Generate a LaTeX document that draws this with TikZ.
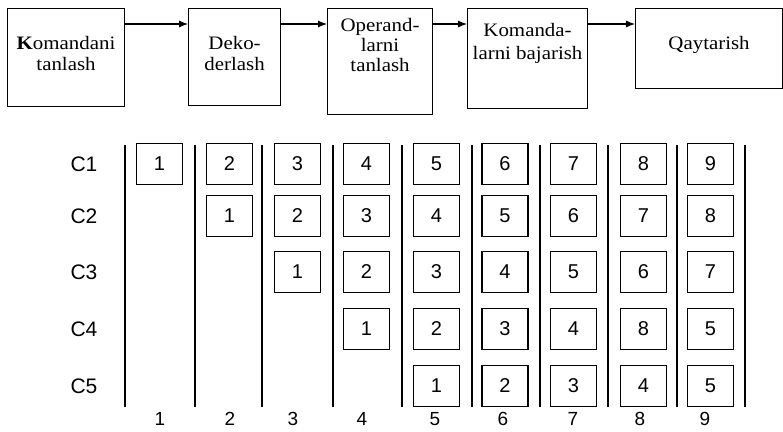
\documentclass[tikz,border=0pt]{standalone}
\usepackage{fontspec}
\setmainfont{Liberation Serif}
\setsansfont{Liberation Sans}
\newfontfamily\stagefont{Liberation Serif}[FakeStretch=1.1]
\usetikzlibrary{arrows.meta,positioning}
\begin{document}
\begin{tikzpicture}[x=1pt,y=-1pt,
  stagebox/.style={draw, line width=1.1pt, inner sep=0pt, anchor=north west},
  stagetext/.style={inner sep=0pt, align=center, font=\stagefont\fontsize{19}{21.5}\selectfont},
  flow/.style={line width=1.1pt, -{Latex[length=9pt,width=7pt]}},
  cell/.style={draw, line width=1.2pt, minimum width=46pt, minimum height=41pt, inner sep=0pt, font=\sffamily\fontsize{20}{24}\selectfont},
  rowlab/.style={inner sep=0pt, font=\sffamily\fontsize{21}{24}\selectfont},
  colnum/.style={inner sep=0pt, font=\sffamily\fontsize{19}{22}\selectfont},
  sepline/.style={line width=1.3pt}]
\useasboundingbox (0,0) rectangle (783,431);
% pipeline stages
\node[stagebox, minimum width=117pt, minimum height=98pt] (b1) at (7,8) {};
\node[stagebox, minimum width=92pt, minimum height=97pt] (b2) at (188,8) {};
\node[stagebox, minimum width=105pt, minimum height=106pt] (b3) at (327,8) {};
\node[stagebox, minimum width=120pt, minimum height=100pt] (b4) at (467,8) {};
\node[stagebox, minimum width=147pt, minimum height=80pt] (b5) at (635,8) {};
\node[stagetext, below=28pt of b1.north] (t1) {\textbf{K}omandani\\tanlash};
\node[stagetext, below=28pt of b2.north] (t2) {Deko-\\derlash};
\node[stagetext, below=10pt of b3.north, font=\stagefont\fontsize{19}{20}\selectfont] (t3) {Operand-\\larni\\tanlash};
\node[stagetext, below=15pt of b4.north, font=\stagefont\fontsize{19}{23}\selectfont] (t4) {Komanda-\\larni bajarish};
\node[stagetext, below=28pt of b5.north] (t5) {Qaytarish};
\coordinate (ay) at (0,24);
\draw[flow] (b1.east |- ay) -- (b2.west |- ay);
\draw[flow] (b2.east |- ay) -- (b3.west |- ay);
\draw[flow] (b3.east |- ay) -- (b4.west |- ay);
\draw[flow] (b4.east |- ay) -- (b5.west |- ay);
% time grid
\foreach \x in {125,195,262,333,402,472,540,608,677,745}
  \draw[sepline] (\x,145) -- (\x,407);
\def\colx{{0,159.5,229.5,297.5,366.5,436.5,505,573.5,643.5,710.5}}
\def\rowy{{0,164,216,272,329,386}}
\foreach \r in {1,...,5}{
  \pgfmathsetmacro\yy{\rowy[\r]}
  \node[rowlab] (r\r) at (84,\yy) {C\r};
}
\foreach \r/\c/\v in {1/1/1,1/2/2,1/3/3,1/4/4,1/5/5,1/6/6,1/7/7,1/8/8,1/9/9,
                      2/2/1,2/3/2,2/4/3,2/5/4,2/6/5,2/7/6,2/8/7,2/9/8,
                      3/3/1,3/4/2,3/5/3,3/6/4,3/7/5,3/8/6,3/9/7,
                      4/4/1,4/5/2,4/6/3,4/7/4,4/8/8,4/9/5,
                      5/5/1,5/6/2,5/7/3,5/8/4,5/9/5}{
  \pgfmathsetmacro\xx{\colx[\c]}
  \pgfmathsetmacro\yy{\rowy[\r]}
  \node[cell] (c\r-\c) at (\xx,\yy) {\v};
}
\foreach \i/\x in {1/160,2/230,3/293,4/362,5/435,6/503,7/573,8/640,9/705}
  \node[colnum] (n\i) at (\x,419) {\i};
\end{tikzpicture}
\end{document}
